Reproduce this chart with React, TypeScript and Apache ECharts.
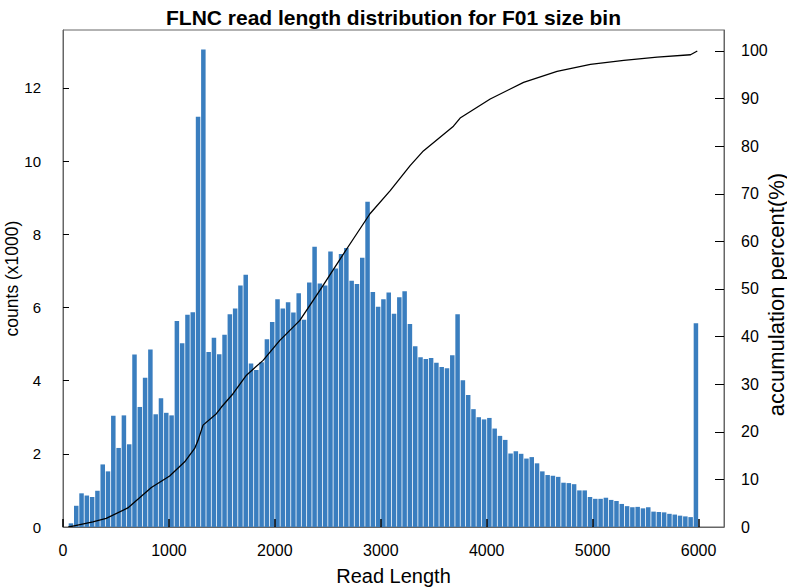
import React, { useEffect, useRef } from "react";
import * as echarts from "echarts";

const TITLE = "FLNC read length distribution for F01 size bin";
const BIN_WIDTH = 50;

// counts per 50 bp bin (x1000), bins start at 0, 50, 100, ...
const counts: number[] = [
  0, 0.1, 0.58, 0.92, 0.86, 0.82, 0.99, 1.71, 1.52, 3.04,
  2.16, 3.05, 2.26, 4.71, 3.28, 4.08, 4.85, 3.08, 3.52, 3.12,
  3.05, 5.63, 5.02, 5.8, 5.87, 11.21, 13.05, 4.78, 5.17, 4.72,
  5.25, 5.81, 5.97, 6.6, 6.89, 4.47, 4.29, 4.5, 5.13, 5.6,
  6.22, 5.97, 6.14, 5.86, 6.39, 5.66, 6.68, 7.66, 6.65, 6.6,
  7.53, 7.06, 7.46, 7.62, 6.73, 6.64, 7.36, 8.89, 6.42, 6.02,
  6.22, 6.41, 5.83, 6.28, 6.44, 5.55, 4.94, 4.64, 4.59, 4.62,
  4.49, 4.37, 4.34, 4.69, 5.81, 4.01, 3.61, 3.22, 3.0, 2.94,
  2.98, 2.69, 2.49, 2.38, 2.01, 2.07, 2.0, 1.87, 1.91, 1.74,
  1.52, 1.42, 1.4, 1.37, 1.21, 1.2, 1.17, 1.0, 1.0, 0.82,
  0.77, 0.77, 0.8, 0.74, 0.71, 0.63, 0.57, 0.54, 0.55, 0.51,
  0.54, 0.42, 0.41, 0.4, 0.36, 0.34, 0.31, 0.29, 0.27, 5.57,
];

// accumulation curve
const cumLength: number[] = [
  50, 93, 282, 408, 612, 834, 1007, 1149, 1243, 1275, 1322, 1448, 1496,
  1605, 1732, 1889, 2047, 2236, 2425, 2678, 2898, 3087, 3277, 3402, 3686,
  3749, 4033, 4348, 4664, 4979, 5294, 5609, 5924, 5988,
];
const cumPercent: number[] = [
  0, 0.2, 1.1, 1.8, 4.0, 8.3, 10.7, 13.7, 16.5, 18.2, 21.4, 23.8, 25.2,
  28.0, 31.9, 35.0, 39.2, 43.4, 49.7, 58.4, 65.8, 70.6, 75.9, 79.0, 84.2,
  85.9, 89.9, 93.4, 95.7, 97.2, 98.0, 98.7, 99.2, 100,
];

const FONT = "Liberation Sans, Arial, sans-serif";
const NARROW = "Liberation Sans Narrow, Liberation Sans, Arial, sans-serif";

export default function App() {
  const ref = useRef<HTMLDivElement>(null);
  useEffect(() => {
    if (!ref.current) return;
    const chart = echarts.init(ref.current, undefined, { renderer: "svg" });
    const barData = counts.map((v, i) => [i * BIN_WIDTH + BIN_WIDTH / 2, v]);
    const lineData = cumLength.map((x, i) => [x, cumPercent[i]]);
    chart.setOption({
      animation: false,
      backgroundColor: "#ffffff",
      textStyle: { fontFamily: FONT },
      title: {
        text: TITLE,
        left: "center",
        top: 2,
        textStyle: { fontFamily: FONT, fontSize: 21, fontWeight: "bold", color: "#000" },
      },
      grid: {
        left: 63,
        right: 63,
        top: 30,
        bottom: 60,
        containLabel: false,
        outerBoundsMode: "none",
        show: true,
        borderColor: "#666",
        borderWidth: 1,
        backgroundColor: "transparent",
      },
      xAxis: {
        type: "value",
        min: 0,
        max: 6240,
        interval: 1000,
        z: 5,
        name: "Read Length",
        nameLocation: "middle",
        nameGap: 39,
        nameMoveOverlap: false,
        nameTextStyle: { fontFamily: FONT, fontSize: 20, color: "#000" },
        axisLine: { show: true, lineStyle: { color: "#666", width: 1 } },
        axisTick: { show: true, inside: true, length: 8, lineStyle: { color: "#000", width: 1.5 } },
        axisLabel: {
          show: true,
          margin: 15,
          fontSize: 16,
          color: "#000",
          fontFamily: FONT,
          showMaxLabel: false,
          formatter: (v: number) => String(v),
        },
        splitLine: { show: false },
      },
      yAxis: [
        {
          type: "value",
          min: 0,
          max: 13.58,
          interval: 2,
          position: "left",
          name: "counts (x1000)",
          nameLocation: "middle",
          nameGap: 42,
          nameMoveOverlap: false,
          nameTextStyle: { fontFamily: FONT, fontSize: 17.5, color: "#000" },
          axisLine: { show: true, lineStyle: { color: "#666", width: 1 } },
          axisTick: { show: true, inside: true, length: 6, lineStyle: { color: "#000" } },
          axisLabel: {
            show: true,
            margin: 22,
            fontSize: 15,
            color: "#000",
            fontFamily: NARROW,
            showMaxLabel: false,
          },
          splitLine: { show: false },
        },
        {
          type: "value",
          min: 0,
          max: 104.4,
          interval: 10,
          position: "right",
          name: "accumulation percent(%)",
          nameLocation: "middle",
          nameGap: 41,
          nameMoveOverlap: false,
          nameTextStyle: { fontFamily: FONT, fontSize: 22, color: "#000", padding: [0, 32, 0, 0] },
          axisLine: { show: true, lineStyle: { color: "#666", width: 1 } },
          axisTick: { show: true, inside: true, length: 9, lineStyle: { color: "#000" } },
          axisLabel: { show: true, margin: 17, fontSize: 16, color: "#000", fontFamily: FONT, showMaxLabel: false },
          splitLine: { show: false },
        },
      ],
      series: [
        {
          type: "bar",
          xAxisIndex: 0,
          yAxisIndex: 0,
          data: barData,
          barWidth: 4.5,
          itemStyle: { color: "#3a7ebf" },
          z: 2,
        },
        {
          type: "line",
          xAxisIndex: 0,
          yAxisIndex: 1,
          data: lineData,
          showSymbol: false,
          symbol: "none",
          smooth: false,
          lineStyle: { color: "#000", width: 1.3 },
          z: 3,
        },
      ],
    });
    return () => chart.dispose();
  }, []);
  return (
    <div
      ref={ref}
      style={{ position: "absolute", left: 0, top: 0, width: 787, height: 587 }}
    />
  );
}
